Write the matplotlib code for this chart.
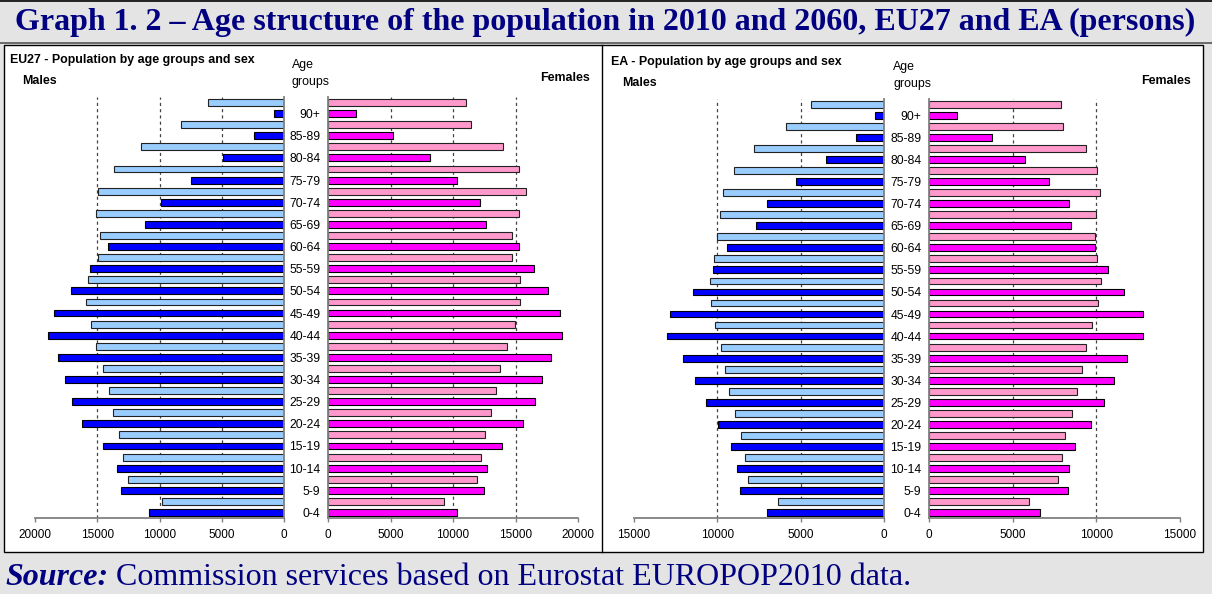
import matplotlib.pyplot as plt
from matplotlib.patches import Rectangle
import numpy as np

plt.rcParams['font.family'] = ['Liberation Sans', 'DejaVu Sans']

W, H = 1212, 594

age_groups = ['0-4', '5-9', '10-14', '15-19', '20-24', '25-29', '30-34', '35-39',
              '40-44', '45-49', '50-54', '55-59', '60-64', '65-69', '70-74',
              '75-79', '80-84', '85-89', '90+']

# EU27, thousands of persons (dark bars = 2010, light bars = 2060)
eu_m_2010 = [10870, 13100, 13390, 14540, 16230, 17030, 17570, 18180, 18990, 18450,
             17110, 15590, 14170, 11140, 9880, 7470, 4900, 2410, 800]
eu_m_2060 = [9800, 12560, 12910, 13280, 13710, 14090, 14540, 15080, 15510, 15880,
             15770, 14970, 14780, 15080, 14970, 13630, 11490, 8300, 6080]
eu_f_2010 = [10330, 12450, 12720, 13890, 15560, 16520, 17150, 17840, 18750, 18560,
             17600, 16440, 15270, 12610, 12190, 10330, 8130, 5200, 2200]
eu_f_2060 = [9270, 11920, 12270, 12560, 13060, 13440, 13780, 14310, 14920, 15370,
             15350, 14740, 14740, 15270, 15800, 15270, 13970, 11470, 11050]

# EA
ea_m_2010 = [6990, 8660, 8800, 9180, 9980, 10660, 11320, 12060, 13010, 12810,
             11460, 10280, 9400, 7680, 6990, 5270, 3470, 1660, 520]
ea_m_2060 = [6330, 8140, 8320, 8580, 8920, 9280, 9540, 9800, 10140, 10400,
             10440, 10200, 10000, 9860, 9660, 9000, 7800, 5850, 4390]
ea_f_2010 = [6630, 8290, 8350, 8750, 9680, 10480, 11060, 11850, 12790, 12790,
             11650, 10720, 9940, 8470, 8350, 7150, 5740, 3780, 1650]
ea_f_2060 = [5960, 7690, 7950, 8150, 8530, 8860, 9120, 9400, 9720, 10080,
             10260, 10060, 9940, 10000, 10200, 10060, 9400, 8010, 7870]

eu_ticks = [0, 5000, 10000, 15000, 20000]
ea_ticks = [0, 5000, 10000, 15000]

title = 'Graph 1. 2 \u2013 Age structure of the population in 2010 and 2060, EU27 and EA (persons)'
navy = '#000080'
band = '#e4e4e4'

fig = plt.figure(figsize=(W / 100, H / 100), dpi=100)

# background in pixel coordinates
bg = fig.add_axes([0, 0, 1, 1], zorder=0)
bg.set_xlim(0, W)
bg.set_ylim(H, 0)
bg.axis('off')
bg.add_patch(Rectangle((0, 0), W, H, facecolor=band, edgecolor='none'))
bg.add_patch(Rectangle((4, 45), 1199, 507, facecolor='white', edgecolor='black', lw=1))
bg.plot([602, 602], [45, 552], color='black', lw=1)
bg.plot([0, W], [1, 1], color='black', lw=1.2)
bg.plot([0, W], [43, 43], color='#555555', lw=1.2)

bg.text(605, 22, title, ha='center', va='center', color=navy, fontsize=23,
        fontweight='bold', family='Liberation Serif')
t1 = bg.text(5, 585, 'Source:', ha='left', va='baseline', color=navy, fontsize=23,
             fontweight='bold', style='italic', family='Liberation Serif')
bg.annotate(' Commission services based on Eurostat EUROPOP2010 data.', xy=(1, 0),
            xycoords=t1, ha='left', va='bottom', color=navy, fontsize=23,
            family='Liberation Serif')


def px_axes(l, t, r, b):
    ax = fig.add_axes([l / W, 1 - b / H, (r - l) / W, (b - t) / H], zorder=1)
    ax.set_facecolor('none')
    return ax


def half(ax, v2010, v2060, ticks, dark, light, male, labels=False):
    pos = np.arange(len(age_groups)) * 2
    for t in ticks[1:-1]:
        ax.axvline(t, color='#444444', lw=0.9, ls=(0, (2.5, 2.5)), zorder=0)
    ax.barh(pos, v2010, height=0.62, color=dark, edgecolor='black', lw=0.8, zorder=2)
    ax.barh(pos + 1, v2060, height=0.62, color=light, edgecolor='#222222', lw=0.8, zorder=2)
    ax.set_ylim(-0.5, 2 * len(age_groups) - 0.5)
    if male:
        ax.set_xlim(ticks[-1], 0)
    else:
        ax.set_xlim(0, ticks[-1])
    ax.set_xticks(ticks)
    ax.set_xticklabels([str(t) for t in ticks])
    for s in ['top', 'left', 'right', 'bottom']:
        ax.spines[s].set_visible(False)
    ax.spines['bottom'].set_visible(True)
    ax.spines['right' if male else 'left'].set_visible(True)
    for s in ax.spines.values():
        s.set_color('#808080')
        s.set_linewidth(1.3)
    ax.tick_params(axis='x', length=3, width=1, color='#808080', pad=5, labelsize=8.5)
    if labels:
        ax.set_yticks(pos)
        ax.set_yticklabels(age_groups)
        ax.tick_params(axis='y', length=0, pad=5.5, labelsize=8.7)
    else:
        ax.set_yticks([])


# EU27 panel
ax1 = px_axes(35, 97, 284, 518)
half(ax1, eu_m_2010, eu_m_2060, eu_ticks, '#0000ff', '#99ccff', True)
ax2 = px_axes(328, 97, 578, 518)
half(ax2, eu_f_2010, eu_f_2060, eu_ticks, '#ff00ff', '#ff99cc', False, labels=True)

# EA panel
ax3 = px_axes(634, 99, 884, 518)
half(ax3, ea_m_2010, ea_m_2060, ea_ticks, '#0000ff', '#99ccff', True)
ax4 = px_axes(929, 99, 1180, 518)
half(ax4, ea_f_2010, ea_f_2060, ea_ticks, '#ff00ff', '#ff99cc', False, labels=True)

# panel headings
bg.text(10, 60, 'EU27 - Population by age groups and sex', ha='left', va='center',
        fontsize=8.9, fontweight='bold')
bg.text(22, 81, 'Males', ha='left', va='center', fontsize=8.9, fontweight='bold')
bg.text(590, 78, 'Females', ha='right', va='center', fontsize=8.9, fontweight='bold')
bg.text(292, 65, 'Age', ha='left', va='center', fontsize=8.9)
bg.text(292, 82, 'groups', ha='left', va='center', fontsize=8.9)

bg.text(611, 62, 'EA - Population by age groups and sex', ha='left', va='center',
        fontsize=8.9, fontweight='bold')
bg.text(622, 83, 'Males', ha='left', va='center', fontsize=8.9, fontweight='bold')
bg.text(1191, 81, 'Females', ha='right', va='center', fontsize=8.9, fontweight='bold')
bg.text(893, 67, 'Age', ha='left', va='center', fontsize=8.9)
bg.text(893, 84, 'groups', ha='left', va='center', fontsize=8.9)

plt.savefig('out.png', dpi=100)
